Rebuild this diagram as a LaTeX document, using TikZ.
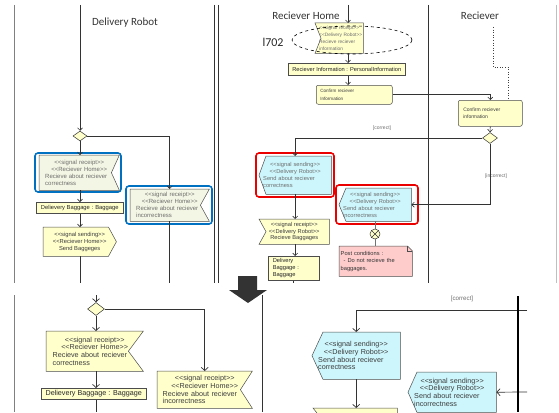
\documentclass[tikz,border=0pt]{standalone}
\usepackage{fontspec}
\setmainfont{Liberation Sans}
\newfontfamily\hdfont{Carlito}
\usetikzlibrary{arrows.meta,shapes.geometric,backgrounds,calc}
\definecolor{yel}{RGB}{255,255,204}
\definecolor{pale}{RGB}{243,246,228}
\definecolor{cyn}{RGB}{204,246,252}
\definecolor{pnk}{RGB}{255,204,204}
\definecolor{bfr}{RGB}{0,112,192}
\definecolor{rfr}{RGB}{235,0,0}
\definecolor{tg}{RGB}{110,110,110}
\definecolor{tb}{RGB}{60,60,60}
\newcommand\fs[2]{\fontsize{#1}{#2}\selectfont}
\newcommand\sgo{<{}<}
\newcommand\sgc{>{}>}
\newcommand\sigtxt[4]{{\centering\noindent\mbox{#1}\\\mbox{#2}\par}\noindent\mbox{#3}\\\mbox{#4}}
\newcommand\rcvR[3]{\draw[shp,fill=#3] (#1.north west) -- (#1.north east) -- ([xshift=-#2]#1.east) -- (#1.south east) -- (#1.south west) -- cycle;}
\newcommand\rcvL[3]{\draw[shp,fill=#3] (#1.north west) -- (#1.north east) -- (#1.south east) -- (#1.south west) -- ([xshift=#2]#1.west) -- cycle;}
\newcommand\sndL[3]{\draw[shp,fill=#3] ([xshift=#2]#1.north west) -- (#1.north east) -- (#1.south east) -- ([xshift=#2]#1.south west) -- (#1.west) -- cycle;}
\newcommand\sndR[3]{\draw[shp,fill=#3] (#1.north west) -- ([xshift=-#2]#1.north east) -- (#1.east) -- ([xshift=-#2]#1.south east) -- (#1.south west) -- cycle;}
\tikzset{
 ln/.style={draw=black!80, line width=0.6pt},
 arr/.style={ln, -{Straight Barb[length=2.5pt,width=5pt]}},
 lnB/.style={draw=black!80, line width=0.7pt},
 arrB/.style={lnB, -{Straight Barb[length=3.2pt,width=7pt]}},
 shp/.style={draw=black!70, line width=0.5pt},
 sg/.style={inner sep=0pt, anchor=north west},
 ttop/.style={font=\fs{6}{7}, text=tg},
 tbot/.style={font=\fs{7.2}{7.8}, text=tb},
 lane/.style={draw=black!80, line width=0.8pt},
 glane/.style={draw=black!50, line width=0.8pt},
 hd/.style={font=\hdfont\fs{11}{13}, text=black!80},
 frameB/.style={draw=bfr, line width=1.6pt, rounded corners=3pt},
 frameR/.style={draw=rfr, line width=1.6pt, rounded corners=3pt},
 dia/.style={diamond, draw=black!80, fill=yel, inner sep=0pt, line width=0.5pt},
 guard/.style={font=\fs{5}{6}, text=tg},
 obj/.style={sg, draw=black!70, fill=yel, text=black!85, line width=0.5pt},
}
\begin{document}
\begin{tikzpicture}[x=1pt,y=-1pt]
\useasboundingbox (0,0) rectangle (559,412);
\clip (0,0) rectangle (559,412);
% ---------------- top-left panel
\draw[glane] (14,5) -- (14,283);
\draw[lane] (214,5) -- (214,283);
\node[hd] (hDR) at (125,23) {Delivery Robot};
\coordinate (tB) at (80,5);
\node[dia, minimum width=14pt, minimum height=10pt] (D1) at (80,136) {};
\node[sg, ttop, minimum width=80pt, minimum height=35pt, text width=68pt] (R1) at (39,155)
  {\sigtxt{\sgo signal receipt\sgc}{\sgo Reciever Home\sgc}{Recieve about reciever}{correctness}};
\node[sg, ttop, minimum width=79pt, minimum height=32pt, text width=67pt] (R2) at (130,189)
  {\sigtxt{\sgo signal receipt\sgc}{\sgo Reciever Home\sgc}{Recieve about reciever}{incorrectness}};
\node[obj, font=\fs{5.8}{7}, minimum width=87pt, minimum height=11pt] (O1) at (36,202) {Delievery Baggage : Baggage};
\node[sg, font=\fs{5.8}{7.2}, text=tb, minimum width=73pt, minimum height=29pt, align=center] (S1) at (43,227)
  {\sgo signal sending\sgc\\\sgo Reciever Home\sgc\\Send Baggeges};
\coordinate (e1) at (80,283);
\begin{scope}[on background layer]
 \draw[frameB] (35,153) rectangle (121,192);
 \draw[frameB] (126,186) rectangle (212,224);
 \rcvR{R1}{8pt}{pale}
 \rcvR{R2}{9pt}{pale}
 \sndR{S1}{8pt}{yel}
\end{scope}
\draw[arr] (tB) -- (D1.north);
\draw[arr] (D1.south) -- (D1.south |- R1.north);
\draw[arr] (D1.east) -| (R2.north);
\draw[arr] (D1 |- R1.south) -- (D1 |- O1.north);
\draw[arr] (D1 |- O1.south) -- (D1 |- S1.north);
\draw[ln] (D1 |- S1.south) -- (e1);
\draw[ln] (R2.south) -- (R2.south |- e1);
% ---------------- top-right panel
\draw[lane] (218,5) -- (218,283);
\draw[lane] (428,5) -- (428,283);
\draw[draw=black!25, line width=0.8pt] (556,5) -- (556,283);
\node[hd] (hRH) at (306,16) {Reciever Home};
\node[hd] (hR) at (480,16) {Reciever};
\coordinate (tA) at (348,5);
\node[sg, font=\fs{4.8}{7}, text=tg, minimum width=48pt, minimum height=30pt, text width=40pt] (RR) at (315,23)
  {\sigtxt{\sgo signal receipt\sgc}{\sgo Delivery Robot\sgc}{Recieve reciever}{information}};
\node[ellipse, draw=black, dashed, line width=0.6pt, minimum width=120pt, minimum height=28pt, inner sep=0pt] (E) at (352,40) {};
\node[font=\hdfont\fs{12}{14}, text=black!85] (L) at (273,42) {l702};
\node[obj, font=\fs{5.7}{7}, minimum width=117pt, minimum height=12pt] (O2) at (288,63) {Reciever Information : PersonalInformation};
\node[obj, rounded corners=2pt, font=\fs{4.6}{7.5}, text=tb, minimum width=76pt, minimum height=19pt, text width=68pt] (A1) at (316,85)
  {Confirm reciever\\Information};
\node[obj, rounded corners=2pt, font=\fs{5}{7.5}, text=tb, minimum width=64pt, minimum height=26pt, text width=54pt] (A2) at (458,100)
  {Confirm reciever\\information};
\coordinate (rT) at (493,27);
\coordinate (rB) at (508,67);
\node[dia, minimum width=15pt, minimum height=11pt] (D2) at (490,138) {};
\node[guard] (g1) at (382,128) {[correct]};
\node[guard] (g2) at (496,176) {[incorrect]};
\node[sg, font=\fs{5.7}{7}, text=tg, minimum width=72pt, minimum height=38pt, text width=64pt] (RS1) at (259,156)
  {\sigtxt{\sgo signal sending\sgc}{\sgo Delivery Robot\sgc}{Send about reciever}{correctness}};
\node[sg, font=\fs{5.7}{7}, text=tg, minimum width=72pt, minimum height=33pt, text width=64pt] (RS2) at (339,188)
  {\sigtxt{\sgo signal sending\sgc}{\sgo Delivery Robot\sgc}{Send about reciever}{incorrectness}};
\node[sg, font=\fs{5.7}{6.8}, text=tb, minimum width=70pt, minimum height=25pt, align=center] (RR2) at (259,219)
  {\sgo signal receipt\sgc\\\sgo Delivery Robot\sgc\\Recieve Baggages};
\node[obj, font=\fs{5.7}{6.8}, minimum width=51pt, minimum height=24pt, text width=42pt] (O3) at (268,256)
  {Delivery\\Baggage :\\Baggage};
\node[circle, draw=black!80, fill=yel, minimum size=10pt, inner sep=0pt, line width=0.5pt] (FF) at (375,234) {};
\draw[black!80, line width=0.5pt] (FF.45) -- (FF.225) (FF.135) -- (FF.315);
\node[sg, font=\fs{5.7}{7.6}, text=black!80, minimum width=73pt, minimum height=30pt, text width=70pt] (N) at (339,246)
  {\noindent Post conditions :\\\hspace*{3pt}- Do not recieve the\\baggages.};
\begin{scope}[on background layer]
 \draw[frameR] (256,153) rectangle (334,197);
 \draw[frameR] (336,185) rectangle (418,224);
 \rcvL{RR}{6pt}{yel}
 \sndL{RS1}{7pt}{cyn}
 \sndL{RS2}{7pt}{cyn}
 \rcvL{RR2}{7pt}{yel}
 \draw[shp, fill=pnk] (N.north west) -- ([xshift=-5pt]N.north east) -- ([yshift=-5pt]N.north east) -- (N.south east) -- (N.south west) -- cycle;
 \draw[shp] ([xshift=-5pt]N.north east) -- ([xshift=-5pt,yshift=-5pt]N.north east) -- ([yshift=-5pt]N.north east);
\end{scope}
\draw[arr] (tA) -- (tA |- RR.north);
\draw[arr] (tA |- RR.south) -- (tA |- O2.north);
\draw[arr] (tA |- O2.south) -- (tA |- A1.north);
\draw[arr] (A1.east) -| (A2.north);
\draw[dotted, black!75, line width=0.6pt] (rT) |- (rB) -- (rB |- A2.north);
\draw[arr] (A2.south) -- (D2.north);
\draw[arr] (D2.west) -| (RS1.north);
\draw[arr] (D2.south) |- (RS2.east);
\draw[arr] (RS1.south) -- (RS1.south |- RR2.north);
\draw[arr] (RS1.south |- RR2.south) -- (RS1.south |- O3.north);
\draw[ln] (O3.south) -- (O3.south |- e1);
\draw[draw=black!55, line width=0.5pt] (FF.north |- RS2.south) -- (FF.north);
\draw[draw=black!55, line width=0.5pt] (FF.south) -- (FF.south |- N.north);
% ---------------- big arrow
\fill[black!80] (238,276) -- (257,276) -- (257,290) -- (267,290) -- (248,303) -- (229,290) -- (238,290) -- cycle;
% ---------------- bottom panel
\draw[glane] (14,295) -- (14,412);
\draw[lane] (262,295) -- (262,412);
\coordinate (bA) at (96,295);
\coordinate (bE) at (96,412);
\node[dia, minimum width=17pt, minimum height=13pt] (D3) at (96,309) {};
\node[sg, tbot, minimum width=97pt, minimum height=40pt, text width=84pt] (BR1) at (46,331)
  {\sigtxt{\sgo signal receipt\sgc}{\sgo Reciever Home\sgc}{Recieve about reciever}{correctness}};
\node[sg, tbot, minimum width=95pt, minimum height=37pt, text width=84pt] (BR2) at (157,371)
  {\sigtxt{\sgo signal receipt\sgc}{\sgo Reciever Home\sgc}{Recieve about reciever}{incorrectness}};
\node[obj, font=\fs{7.2}{8}, minimum width=105pt, minimum height=11pt] (BO1) at (41,388) {Delievery Baggage : Baggage};
\node[font=\fs{6.2}{7}, text=tg] (g3) at (462,299) {[correct]};
\coordinate (c1) at (527,310);
\coordinate (c2) at (527,392);
\node[sg, tbot, minimum width=88pt, minimum height=47pt, text width=76pt] (BS1) at (312,332)
  {\sigtxt{\sgo signal sending\sgc}{\sgo Delivery Robot\sgc}{Send about reciever}{correctness}};
\node[sg, tbot, minimum width=88pt, minimum height=40pt, text width=76pt] (BS2) at (408,372)
  {\sigtxt{\sgo signal sending\sgc}{\sgo Delivery Robot\sgc}{Send about reciever}{incorrectness}};
\node[sg, minimum width=84pt, minimum height=20pt] (BRR) at (313,408) {};
\begin{scope}[on background layer]
 \rcvR{BR1}{15pt}{yel}
 \rcvR{BR2}{12pt}{yel}
 \sndL{BS1}{11pt}{cyn}
 \sndL{BS2}{9pt}{cyn}
 \rcvL{BRR}{8pt}{yel}
\end{scope}
\draw[arrB] (bA) -- (D3.north);
\draw[arrB] (D3.south) -- (D3.south |- BR1.north);
\draw[arrB] (D3.east) -| (BR2.north);
\draw[arrB] (D3.south |- BR1.south) -- (D3.south |- BO1.north);
\draw[lnB] (D3.south |- BO1.south) -- (bE);
\draw[arrB] (c1) -| (BS1.north);
\draw[arrB] (BS1.south) -- (BS1.south |- BRR.north);
\draw[arrB] (c2) -- (BS2.east);
\draw[black, line width=1.4pt] (518,296) -- (518,412);
\end{tikzpicture}
\end{document}
